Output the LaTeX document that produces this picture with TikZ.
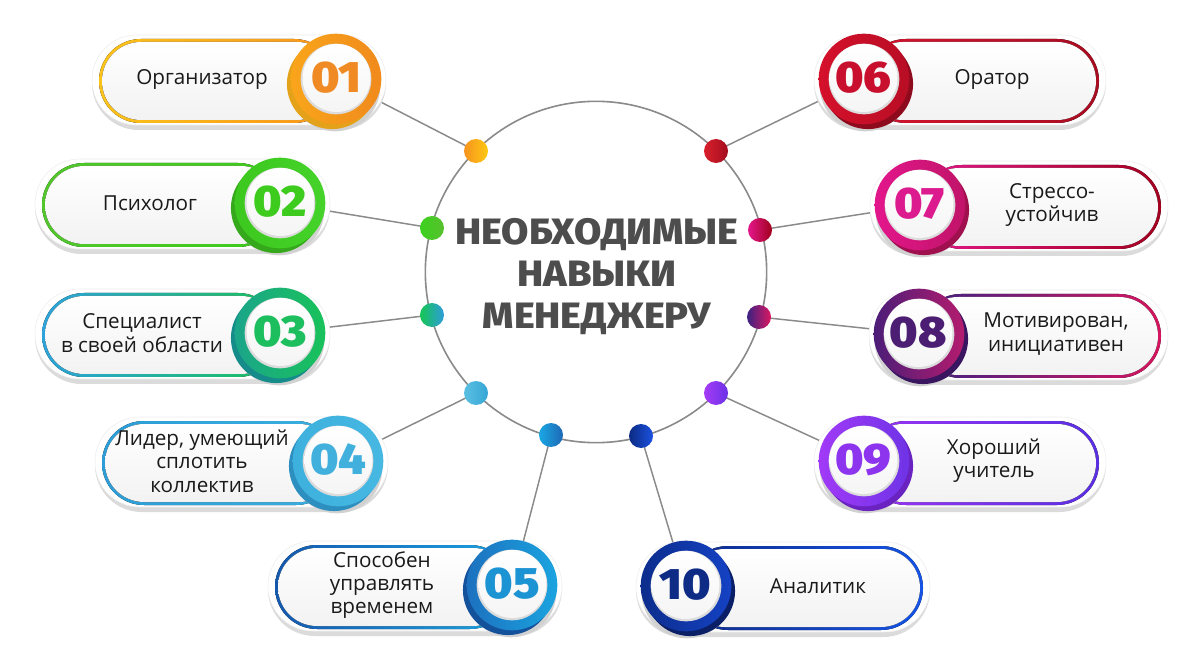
\documentclass[tikz,border=0pt]{standalone}
\usepackage{fontspec}
\setmainfont{Open Sans}
\newfontfamily\numfont{Fira Sans Black}[FakeStretch=1.08]
\newfontfamily\titlefont{Fira Sans ExtraBold}[FakeStretch=1.08]
\usetikzlibrary{backgrounds}

\definecolor{txt}{HTML}{1A1A1A}
\definecolor{conncol}{HTML}{8A8A8A}
\definecolor{titlecol}{HTML}{4D4D4D}
% ring left/right, outline left/right, number, shadow
\definecolor{ra01}{HTML}{F9A51B}\definecolor{rb01}{HTML}{F08A1C}\definecolor{oa01}{HTML}{FBC31A}\definecolor{ob01}{HTML}{F7941D}\definecolor{n01}{HTML}{F08A24}\definecolor{sd01}{HTML}{E3A21A}
\definecolor{ra02}{HTML}{3CC81E}\definecolor{rb02}{HTML}{45D22A}\definecolor{oa02}{HTML}{52C72B}\definecolor{ob02}{HTML}{3CCB1B}\definecolor{n02}{HTML}{3DCB1E}\definecolor{sd02}{HTML}{35A81C}
\definecolor{ra03}{HTML}{1BA58A}\definecolor{rb03}{HTML}{19C25A}\definecolor{oa03}{HTML}{2CA3DB}\definecolor{ob03}{HTML}{1BC05A}\definecolor{n03}{HTML}{1DBE5E}\definecolor{sd03}{HTML}{168C8A}
\definecolor{ra04}{HTML}{3DB0DD}\definecolor{rb04}{HTML}{46B8E2}\definecolor{oa04}{HTML}{2C9DD6}\definecolor{ob04}{HTML}{3AAFE0}\definecolor{n04}{HTML}{41B0DC}\definecolor{sd04}{HTML}{2D8FBF}
\definecolor{ra05}{HTML}{1C71BE}\definecolor{rb05}{HTML}{1BA4E0}\definecolor{oa05}{HTML}{1559AE}\definecolor{ob05}{HTML}{1CA3DE}\definecolor{n05}{HTML}{1C93D3}\definecolor{sd05}{HTML}{14519B}
\definecolor{ra06}{HTML}{D5102B}\definecolor{rb06}{HTML}{B80E25}\definecolor{oa06}{HTML}{D3142F}\definecolor{ob06}{HTML}{A80D22}\definecolor{n06}{HTML}{C8102E}\definecolor{sd06}{HTML}{8E0B1D}
\definecolor{ra07}{HTML}{E3168C}\definecolor{rb07}{HTML}{C01468}\definecolor{oa07}{HTML}{E2178A}\definecolor{ob07}{HTML}{A3001E}\definecolor{n07}{HTML}{DC1B8E}\definecolor{sd07}{HTML}{A0104F}
\definecolor{ra08}{HTML}{4B1D78}\definecolor{rb08}{HTML}{B41C6E}\definecolor{oa08}{HTML}{3D2283}\definecolor{ob08}{HTML}{D7155F}\definecolor{n08}{HTML}{4B1E73}\definecolor{sd08}{HTML}{3A1660}
\definecolor{ra09}{HTML}{A13AF7}\definecolor{rb09}{HTML}{6F33E6}\definecolor{oa09}{HTML}{9A35F4}\definecolor{ob09}{HTML}{5A2FE2}\definecolor{n09}{HTML}{8D35EE}\definecolor{sd09}{HTML}{6A23C0}
\definecolor{ra10}{HTML}{0C2D8C}\definecolor{rb10}{HTML}{1542C4}\definecolor{oa10}{HTML}{0E2B8A}\definecolor{ob10}{HTML}{1554E6}\definecolor{n10}{HTML}{0E2C86}\definecolor{sd10}{HTML}{0A1F66}
% dots
\definecolor{da01}{HTML}{F7931E}\definecolor{db01}{HTML}{FDC912}
\definecolor{da02}{HTML}{3CD11E}\definecolor{db02}{HTML}{58C02E}
\definecolor{da03}{HTML}{16C654}\definecolor{db03}{HTML}{2E9CDA}
\definecolor{da04}{HTML}{5BC0E2}\definecolor{db04}{HTML}{36A6D6}
\definecolor{da05}{HTML}{1AA8E2}\definecolor{db05}{HTML}{1E68B5}
\definecolor{da06}{HTML}{DA1F2C}\definecolor{db06}{HTML}{A20D1E}
\definecolor{da07}{HTML}{E4178B}\definecolor{db07}{HTML}{A0011C}
\definecolor{da08}{HTML}{3B2283}\definecolor{db08}{HTML}{DC1861}
\definecolor{da09}{HTML}{A63BF6}\definecolor{db09}{HTML}{6A31E6}
\definecolor{da10}{HTML}{0B2A82}\definecolor{db10}{HTML}{1C52E2}

\tikzset{
  conn/.style={draw=conncol, line width=1.1pt},
  skilldot/.style={circle, inner sep=0pt, minimum size=18pt},
  skilllabel/.style={font=\fontsize{15.5}{17.5}\selectfont, text=txt, align=center, inner sep=0pt},
  skillnum/.style={font=\numfont\fontsize{33}{33}\selectfont},
  hubstyle/.style={circle, draw=conncol, line width=1.2pt, minimum size=256pt, inner sep=0pt},
}

% #1 id, #2 cx, #3 cy, #4 far x, #5 side (1 left, -1 right), #6 text x, #7 text
\newcommand\skillitem[7]{%
  \pgfmathsetmacro\sxo{#2+#5*50}%
  \pgfmathsetmacro\sfi{#4+#5*7}%
  \pgfmathsetmacro\sfii{#4+#5*10}%
  \pgfmathsetmacro\sdx{#2-#5*4}%
  \pgfmathsetmacro\sgx{#2-#5*1}%
  \fill[black!14, rounded corners=35pt] (#4,#3-43) rectangle (\sxo,#3+51);
  \fill[white, draw=black!7, line width=0.4pt, rounded corners=33.5pt] (#4,#3-44) rectangle (\sxo,#3+46);
  \fill[left color=oa#1, right color=ob#1, rounded corners=31.4pt] (\sfi,#3-40) rectangle (#2,#3+44);
  \fill[top color=white, bottom color=black!5, rounded corners=29.2pt] (\sfii,#3-37) rectangle (#2,#3+41);
  \fill[black!18] (\sgx,#3+7) circle (34pt);
  \fill[sd#1] (\sdx,#3+5) circle (33.8pt);
  \node (c#1) [circle, inner sep=0pt, minimum size=68pt, left color=ra#1, right color=rb#1] at (#2,#3) {};
  \node (w#1) [circle, inner sep=0pt, minimum size=53pt, fill=black!14] at (#2,#3) {};
  \node (n#1) [circle, inner sep=0pt, minimum size=51pt, top color=white, bottom color=black!4, text=n#1, skillnum] at (#2+#5*0.5,#3-1) {#1};
  \node (t#1) [skilllabel] at (#6,#3) {#7};
}

\begin{document}
\begin{tikzpicture}[x=0.75pt, y=-0.75pt]
\useasboundingbox (0,0) rectangle (1200,670);
\begin{scope}[on background layer]
  \fill[white] (0,0) rectangle (1200,670);
\end{scope}

\node (hub) [hubstyle] at (596,272) {};
\node (title) [font=\titlefont\fontsize{27.5}{31.5}\selectfont, text=titlecol, align=center] at (597,277) {НЕОБХОДИМЫЕ\\НАВЫКИ\\МЕНЕДЖЕРУ};

\skillitem{01}{336}{79}{92}{1}{202}{Организатор}
\skillitem{02}{280}{203}{35}{1}{150}{Психолог}
\skillitem{03}{280}{333}{35}{1}{142}{Специалист\\в своей области}
\skillitem{04}{338}{461}{95}{1}{202}{Лидер, умеющий\\сплотить\\коллектив}
\skillitem{05}{512}{585}{268}{1}{382}{Способен\\управлять\\временем}
\skillitem{06}{864}{79}{1106}{-1}{992}{Оратор}
\skillitem{07}{920}{205}{1168}{-1}{1052}{Стрессо-\\устойчив}
\skillitem{08}{919}{334}{1168}{-1}{1056}{Мотивирован,\\инициативен}
\skillitem{09}{864}{461}{1106}{-1}{994}{Хороший\\учитель}
\skillitem{10}{686}{586}{930}{-1}{818}{Аналитик}

\node (d01) [skilldot, left color=da01, right color=db01] at (476,151) {};
\node (d02) [skilldot, left color=da02, right color=db02] at (432,228) {};
\node (d03) [skilldot, left color=da03, right color=db03] at (432,315) {};
\node (d04) [skilldot, left color=da04, right color=db04] at (476,393) {};
\node (d05) [skilldot, left color=da05, right color=db05] at (551,435) {};
\node (d06) [skilldot, left color=da06, right color=db06] at (716,151) {};
\node (d07) [skilldot, left color=da07, right color=db07] at (760,230) {};
\node (d08) [skilldot, left color=da08, right color=db08] at (759,317) {};
\node (d09) [skilldot, left color=da09, right color=db09] at (716,393) {};
\node (d10) [skilldot, left color=da10, right color=db10] at (641,436) {};

\begin{scope}[on background layer]
  \foreach \i in {01,02,03,04,05,06,07,08,09,10} {
    \draw[conn] (d\i.center) -- (c\i.center);
  }
\end{scope}
\end{tikzpicture}
\end{document}
